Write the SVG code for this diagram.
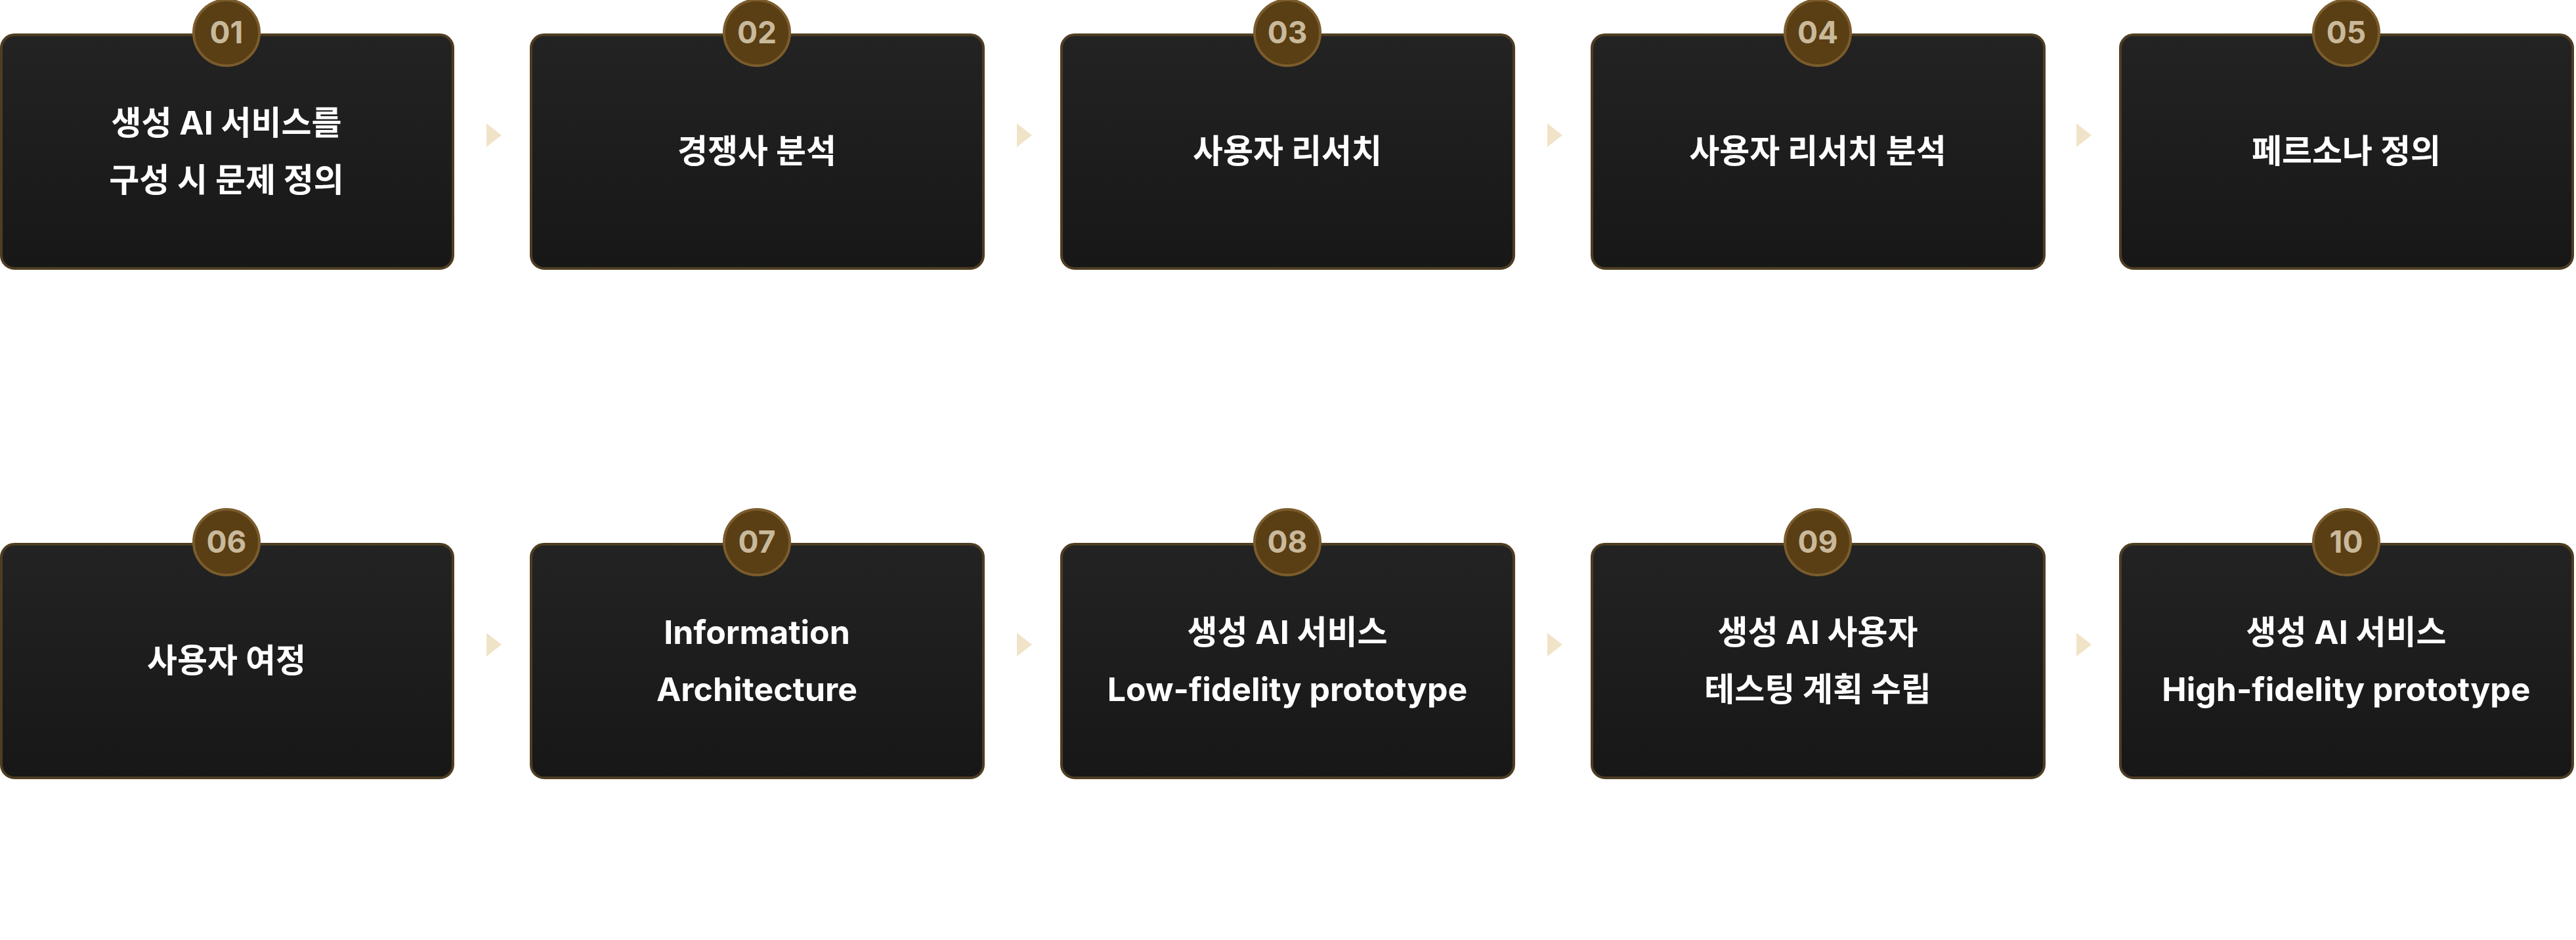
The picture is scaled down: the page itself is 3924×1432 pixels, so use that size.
<svg xmlns="http://www.w3.org/2000/svg" width="3924" height="1432" viewBox="0 0 3924 1432">
<style>
.box{fill:url(#g);stroke:#4e3d22;stroke-width:4}
.badge{fill:#5a3e14;stroke:#7b5c2c;stroke-width:4}
.num{font-family:Inter,"Noto Sans",sans-serif;font-weight:700;font-size:46px;fill:#c9b99b;text-anchor:middle}
.t{font-family:Inter,"Noto Sans CJK KR",sans-serif;font-weight:700;font-size:50px;fill:#fff;text-anchor:middle}
.arr{fill:#f1e3c8}
</style>
<defs><linearGradient id="g" x1="0" y1="0" x2="0" y2="1"><stop offset="0" stop-color="#232323"/><stop offset="1" stop-color="#171717"/></linearGradient></defs>
<g id="connectors">
<polygon class="arr" points="741,188 741,224 764,206"/>
<polygon class="arr" points="1549,188 1549,224 1572,206"/>
<polygon class="arr" points="2357,188 2357,224 2380,206"/>
<polygon class="arr" points="3163,188 3163,224 3186,206"/>
<polygon class="arr" points="741,964 741,1000 764,982"/>
<polygon class="arr" points="1549,964 1549,1000 1572,982"/>
<polygon class="arr" points="2357,964 2357,1000 2380,982"/>
<polygon class="arr" points="3163,964 3163,1000 3186,982"/>
</g>
<g id="n01"><rect class="box" x="2" y="53" width="688" height="356" rx="20"/><circle class="badge" cx="345" cy="50" r="50"/><text class="num" x="345" y="66">01</text><text class="t" x="345" y="205">생성 AI 서비스를</text><text class="t" x="345" y="292">구성 시 문제 정의</text></g>
<g id="n02"><rect class="box" x="809" y="53" width="689" height="356" rx="20"/><circle class="badge" cx="1153" cy="50" r="50"/><text class="num" x="1153" y="66">02</text><text class="t" x="1153" y="248">경쟁사 분석</text></g>
<g id="n03"><rect class="box" x="1617" y="53" width="689" height="356" rx="20"/><circle class="badge" cx="1961" cy="50" r="50"/><text class="num" x="1961" y="66">03</text><text class="t" x="1961" y="248">사용자 리서치</text></g>
<g id="n04"><rect class="box" x="2425" y="53" width="689" height="356" rx="20"/><circle class="badge" cx="2769" cy="50" r="50"/><text class="num" x="2769" y="66">04</text><text class="t" x="2769" y="248">사용자 리서치 분석</text></g>
<g id="n05"><rect class="box" x="3230" y="53" width="689" height="356" rx="20"/><circle class="badge" cx="3574" cy="50" r="50"/><text class="num" x="3574" y="66">05</text><text class="t" x="3574" y="248">페르소나 정의</text></g>
<g id="n06"><rect class="box" x="2" y="829" width="688" height="356" rx="20"/><circle class="badge" cx="345" cy="826" r="50"/><text class="num" x="345" y="842">06</text><text class="t" x="345" y="1024">사용자 여정</text></g>
<g id="n07"><rect class="box" x="809" y="829" width="689" height="356" rx="20"/><circle class="badge" cx="1153" cy="826" r="50"/><text class="num" x="1153" y="842">07</text><text class="t" x="1153" y="981">Information</text><text class="t" x="1153" y="1068">Architecture</text></g>
<g id="n08"><rect class="box" x="1617" y="829" width="689" height="356" rx="20"/><circle class="badge" cx="1961" cy="826" r="50"/><text class="num" x="1961" y="842">08</text><text class="t" x="1961" y="981">생성 AI 서비스</text><text class="t" x="1961" y="1068">Low-fidelity prototype</text></g>
<g id="n09"><rect class="box" x="2425" y="829" width="689" height="356" rx="20"/><circle class="badge" cx="2769" cy="826" r="50"/><text class="num" x="2769" y="842">09</text><text class="t" x="2769" y="981">생성 AI 사용자</text><text class="t" x="2769" y="1068">테스팅 계획 수립</text></g>
<g id="n10"><rect class="box" x="3230" y="829" width="689" height="356" rx="20"/><circle class="badge" cx="3574" cy="826" r="50"/><text class="num" x="3574" y="842">10</text><text class="t" x="3574" y="981">생성 AI 서비스</text><text class="t" x="3574" y="1068">High-fidelity prototype</text></g>
</svg>
